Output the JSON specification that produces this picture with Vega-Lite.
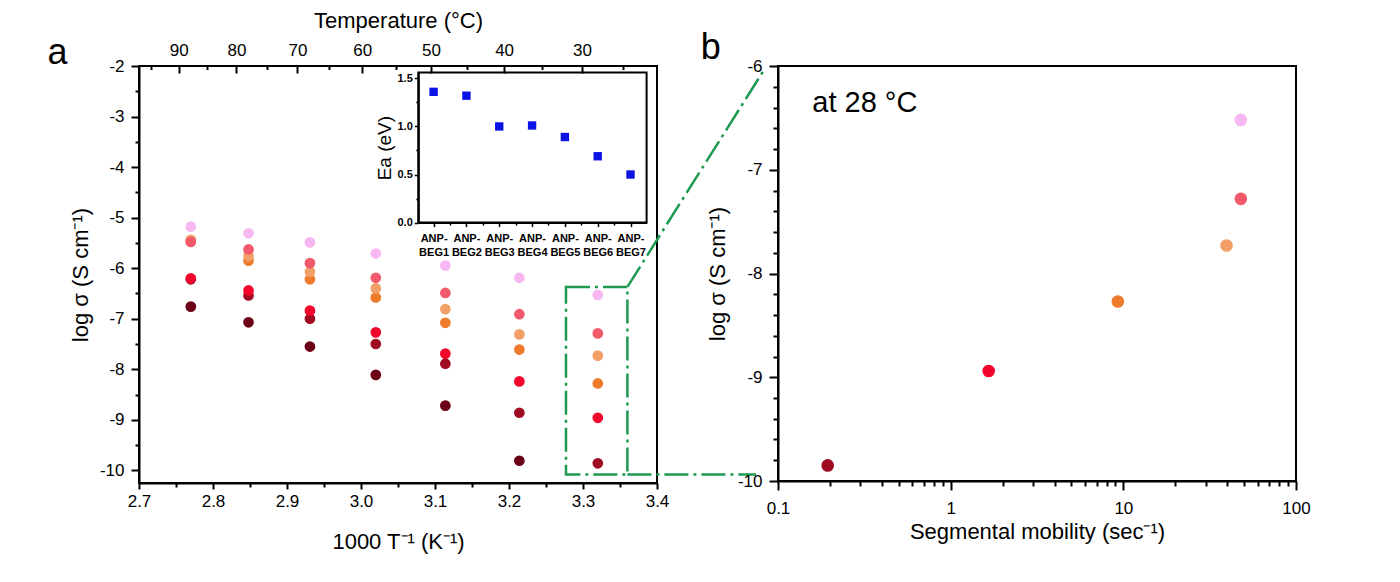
{
  "$schema": "https://vega.github.io/schema/vega-lite/v6.json",
  "background": "white",
  "padding": {"left": 46, "top": 8, "right": 5, "bottom": 5},
  "config": {
    "font": "Liberation Sans",
    "view": {"stroke": "black", "strokeWidth": 2},
    "axis": {
      "grid": false,
      "domainColor": "black",
      "domainWidth": 2,
      "tickColor": "black",
      "tickWidth": 2,
      "labelColor": "black",
      "titleColor": "black",
      "labelFont": "Liberation Sans",
      "titleFont": "Liberation Sans",
      "labelFontSize": 17,
      "titleFontSize": 22,
      "titleFontWeight": "normal",
      "labelFlush": false,
      "labelOverlap": false,
      "labelBound": false
    }
  },
  "datasets": {
    "cond": [
      {"sample": "ANP-BEG1", "invT": 2.770, "logs": -6.76},
      {"sample": "ANP-BEG1", "invT": 2.848, "logs": -7.07},
      {"sample": "ANP-BEG1", "invT": 2.931, "logs": -7.55},
      {"sample": "ANP-BEG1", "invT": 3.020, "logs": -8.11},
      {"sample": "ANP-BEG1", "invT": 3.114, "logs": -8.72},
      {"sample": "ANP-BEG1", "invT": 3.214, "logs": -9.81},
      {"sample": "ANP-BEG2", "invT": 2.770, "logs": -6.22},
      {"sample": "ANP-BEG2", "invT": 2.848, "logs": -6.54},
      {"sample": "ANP-BEG2", "invT": 2.931, "logs": -7.00},
      {"sample": "ANP-BEG2", "invT": 3.020, "logs": -7.50},
      {"sample": "ANP-BEG2", "invT": 3.114, "logs": -7.89},
      {"sample": "ANP-BEG2", "invT": 3.214, "logs": -8.86},
      {"sample": "ANP-BEG2", "invT": 3.320, "logs": -9.86},
      {"sample": "ANP-BEG3", "invT": 2.770, "logs": -6.20},
      {"sample": "ANP-BEG3", "invT": 2.848, "logs": -6.44},
      {"sample": "ANP-BEG3", "invT": 2.931, "logs": -6.84},
      {"sample": "ANP-BEG3", "invT": 3.020, "logs": -7.27},
      {"sample": "ANP-BEG3", "invT": 3.114, "logs": -7.69},
      {"sample": "ANP-BEG3", "invT": 3.214, "logs": -8.24},
      {"sample": "ANP-BEG3", "invT": 3.320, "logs": -8.96},
      {"sample": "ANP-BEG4", "invT": 2.770, "logs": -5.46},
      {"sample": "ANP-BEG4", "invT": 2.848, "logs": -5.85},
      {"sample": "ANP-BEG4", "invT": 2.931, "logs": -6.22},
      {"sample": "ANP-BEG4", "invT": 3.020, "logs": -6.58},
      {"sample": "ANP-BEG4", "invT": 3.114, "logs": -7.08},
      {"sample": "ANP-BEG4", "invT": 3.214, "logs": -7.61},
      {"sample": "ANP-BEG4", "invT": 3.320, "logs": -8.28},
      {"sample": "ANP-BEG5", "invT": 2.770, "logs": -5.44},
      {"sample": "ANP-BEG5", "invT": 2.848, "logs": -5.76},
      {"sample": "ANP-BEG5", "invT": 2.931, "logs": -6.07},
      {"sample": "ANP-BEG5", "invT": 3.020, "logs": -6.40},
      {"sample": "ANP-BEG5", "invT": 3.114, "logs": -6.81},
      {"sample": "ANP-BEG5", "invT": 3.214, "logs": -7.31},
      {"sample": "ANP-BEG5", "invT": 3.320, "logs": -7.73},
      {"sample": "ANP-BEG6", "invT": 2.770, "logs": -5.48},
      {"sample": "ANP-BEG6", "invT": 2.848, "logs": -5.63},
      {"sample": "ANP-BEG6", "invT": 2.931, "logs": -5.90},
      {"sample": "ANP-BEG6", "invT": 3.020, "logs": -6.19},
      {"sample": "ANP-BEG6", "invT": 3.114, "logs": -6.49},
      {"sample": "ANP-BEG6", "invT": 3.214, "logs": -6.91},
      {"sample": "ANP-BEG6", "invT": 3.320, "logs": -7.29},
      {"sample": "ANP-BEG7", "invT": 2.770, "logs": -5.18},
      {"sample": "ANP-BEG7", "invT": 2.848, "logs": -5.31},
      {"sample": "ANP-BEG7", "invT": 2.931, "logs": -5.49},
      {"sample": "ANP-BEG7", "invT": 3.020, "logs": -5.71},
      {"sample": "ANP-BEG7", "invT": 3.114, "logs": -5.95},
      {"sample": "ANP-BEG7", "invT": 3.214, "logs": -6.19},
      {"sample": "ANP-BEG7", "invT": 3.320, "logs": -6.53}
    ],
    "ea": [
      {"sample": "ANP-BEG1", "idx": 1, "ea": 1.36},
      {"sample": "ANP-BEG2", "idx": 2, "ea": 1.32},
      {"sample": "ANP-BEG3", "idx": 3, "ea": 1.00},
      {"sample": "ANP-BEG4", "idx": 4, "ea": 1.01},
      {"sample": "ANP-BEG5", "idx": 5, "ea": 0.89},
      {"sample": "ANP-BEG6", "idx": 6, "ea": 0.69},
      {"sample": "ANP-BEG7", "idx": 7, "ea": 0.50}
    ],
    "mob": [
      {"sample": "ANP-BEG2", "mobility": 0.194, "logs": -9.85},
      {"sample": "ANP-BEG3", "mobility": 1.66, "logs": -8.94},
      {"sample": "ANP-BEG4", "mobility": 9.29, "logs": -8.27},
      {"sample": "ANP-BEG5", "mobility": 39.6, "logs": -7.73},
      {"sample": "ANP-BEG6", "mobility": 47.9, "logs": -7.28},
      {"sample": "ANP-BEG7", "mobility": 47.9, "logs": -6.52}
    ],
    "box": [
      {"x1": 3.277, "x2": 3.36, "y1": -6.37, "y2": -10.08}
    ],
    "links": [
      {"x1": 3.36, "y1": -6.37, "x2": 3.546, "y2": -2.046},
      {"x1": 3.36, "y1": -10.08, "x2": 3.534, "y2": -10.08}
    ]
  },
  "hconcat": [
    {
      "width": 518,
      "height": 417,
      "layer": [
        {
          "layer": [
            {
              "data": {"name": "cond"},
              "mark": {"type": "circle", "size": 115, "opacity": 1},
              "encoding": {
                "x": {
                  "field": "invT", "type": "quantitative",
                  "scale": {"domain": [2.7, 3.4], "nice": false, "zero": false},
                  "axis": {
                    "orient": "bottom", "title": "1000 T⁻¹ (K⁻¹)",
                    "values": [2.7, 2.8, 2.9, 3.0, 3.1, 3.2, 3.3, 3.4],
                    "format": ".1f", "tickSize": 6, "labelPadding": 4, "titlePadding": 22
                  }
                },
                "y": {
                  "field": "logs", "type": "quantitative",
                  "scale": {"domain": [-10.25, -2], "nice": false, "zero": false},
                  "axis": {
                    "orient": "left", "title": "log σ (S cm⁻¹)",
                    "values": [-2, -3, -4, -5, -6, -7, -8, -9, -10],
                    "labelExpr": "'' + datum.value", "tickSize": 8, "labelPadding": 7, "titlePadding": 7
                  }
                },
                "color": {
                  "field": "sample", "type": "nominal", "legend": null,
                  "scale": {
                    "domain": ["ANP-BEG1", "ANP-BEG2", "ANP-BEG3", "ANP-BEG4", "ANP-BEG5", "ANP-BEG6", "ANP-BEG7"],
                    "range": ["#6b0016", "#9e0b22", "#f2062c", "#ee7b2c", "#f3a068", "#f25a6c", "#f7b8f2"]
                  }
                }
              }
            },
            {
              "data": {"name": "cond"},
              "mark": {"type": "circle", "opacity": 0},
              "encoding": {
                "x": {
                  "field": "invT", "type": "quantitative",
                  "scale": {"domain": [2.7, 3.4], "nice": false, "zero": false},
                  "axis": {
                    "orient": "bottom", "title": null, "labels": false, "domain": false,
                    "values": [2.75, 2.85, 2.95, 3.05, 3.15, 3.25, 3.35], "tickSize": 4
                  }
                },
                "y": {
                  "field": "logs", "type": "quantitative",
                  "scale": {"domain": [-10.25, -2], "nice": false, "zero": false},
                  "axis": {
                    "orient": "left", "title": null, "labels": false, "domain": false,
                    "values": [-2.5, -3.5, -4.5, -5.5, -6.5, -7.5, -8.5, -9.5], "tickSize": 4
                  }
                }
              }
            },
            {
              "data": {"name": "cond"},
              "mark": {"type": "circle", "opacity": 0},
              "encoding": {
                "x": {
                  "field": "invT", "type": "quantitative",
                  "scale": {"domain": [2.7, 3.4], "nice": false, "zero": false},
                  "axis": {
                    "orient": "top", "title": "Temperature (°C)", "domain": false,
                    "values": [2.75368, 2.83166, 2.91418, 3.00165, 3.09454, 3.19336, 3.2987],
                    "labelExpr": "format(1000 / datum.value - 273.15, '.0f')",
                    "tickSize": -7, "labelPadding": 14, "titlePadding": 9
                  }
                },
                "y": {
                  "field": "logs", "type": "quantitative",
                  "scale": {"domain": [-10.25, -2], "nice": false, "zero": false},
                  "axis": null
                }
              }
            },
            {
              "data": {"name": "cond"},
              "mark": {"type": "circle", "opacity": 0},
              "encoding": {
                "x": {
                  "field": "invT", "type": "quantitative",
                  "scale": {"domain": [2.7, 3.4], "nice": false, "zero": false},
                  "axis": {
                    "orient": "top", "title": null, "labels": false, "domain": false,
                    "values": [2.71635, 2.79212, 2.87233, 2.95726, 3.04739, 3.14317, 3.24517, 3.35402],
                    "tickSize": -3.5
                  }
                },
                "y": {
                  "field": "logs", "type": "quantitative",
                  "scale": {"domain": [-10.25, -2], "nice": false, "zero": false},
                  "axis": null
                }
              }
            },
            {
              "data": {"name": "box"},
              "mark": {"type": "rect", "fill": null, "stroke": "#1e9a50", "strokeWidth": 2.5, "strokeDash": [24, 5, 3, 5]},
              "encoding": {
                "x": {"field": "x1", "type": "quantitative", "scale": {"domain": [2.7, 3.4], "nice": false, "zero": false}, "axis": null},
                "x2": {"field": "x2"},
                "y": {"field": "y1", "type": "quantitative", "scale": {"domain": [-10.25, -2], "nice": false, "zero": false}, "axis": null},
                "y2": {"field": "y2"}
              }
            },
            {
              "data": {"name": "links"},
              "mark": {"type": "rule", "stroke": "#1e9a50", "strokeWidth": 2.5, "strokeDash": [24, 5, 3, 5]},
              "encoding": {
                "x": {"field": "x1", "type": "quantitative", "scale": {"domain": [2.7, 3.4], "nice": false, "zero": false}, "axis": null},
                "x2": {"field": "x2"},
                "y": {"field": "y1", "type": "quantitative", "scale": {"domain": [-10.25, -2], "nice": false, "zero": false}, "axis": null},
                "y2": {"field": "y2"}
              }
            },
            {
              "data": {"values": [{"label": "a"}]},
              "mark": {"type": "text", "fontSize": 36, "align": "center", "baseline": "middle", "font": "Liberation Sans"},
              "encoding": {
                "x": {"datum": 2.59, "type": "quantitative", "scale": {"domain": [2.7, 3.4], "nice": false, "zero": false}, "axis": null},
                "y": {"datum": -1.74, "type": "quantitative", "scale": {"domain": [-10.25, -2], "nice": false, "zero": false}, "axis": null},
                "text": {"field": "label"}
              }
            }
          ],
          "resolve": {"axis": {"x": "independent", "y": "independent"}}
        },
        {
          "layer": [
            {
              "data": {"name": "ea"},
              "mark": {"type": "square", "size": 70, "opacity": 1, "color": "#0a12e6"},
              "encoding": {
                "x": {
                  "field": "idx", "type": "quantitative",
                  "scale": {"domain": [0.534, 7.49], "range": [279.3, 507.6], "nice": false, "zero": false},
                  "axis": {
                    "orient": "bottom", "offset": -260.4, "title": null,
                    "values": [1, 2, 3, 4, 5, 6, 7], "tickSize": 4, "tickWidth": 1.5, "domainWidth": 2,
                    "labelExpr": "['ANP-', 'BEG' + datum.value]",
                    "labelFontSize": 11, "labelFontWeight": "bold", "labelPadding": 6, "labelLineHeight": 14,
                    "encode": {"labels": {"update": {"fill": {"signal": "['#6b0016', '#9e0b22', '#e8143a', '#ec7a2c', '#f3a068', '#ee5a6e', '#f4bcf0'][datum.value - 1]"}}}}
                  }
                },
                "y": {
                  "field": "ea", "type": "quantitative",
                  "scale": {"domain": [0, 1.56], "range": [156.6, 6.6], "nice": false, "zero": false},
                  "axis": {
                    "orient": "left", "offset": -279.3, "title": "Ea (eV)",
                    "values": [0, 0.5, 1, 1.5], "format": ".1f", "tickSize": 4, "tickWidth": 1.5,
                    "labelFontSize": 11, "labelFontWeight": "bold", "labelPadding": 2,
                    "titleFontSize": 19, "titlePadding": 3
                  }
                }
              }
            },
            {
              "data": {"name": "ea"},
              "mark": {"type": "square", "opacity": 0},
              "encoding": {
                "x": {
                  "field": "idx", "type": "quantitative",
                  "scale": {"domain": [0.534, 7.49], "range": [279.3, 507.6], "nice": false, "zero": false},
                  "axis": {
                    "orient": "bottom", "offset": -260.4, "title": null, "labels": false, "domain": false,
                    "values": [1.5, 2.5, 3.5, 4.5, 5.5, 6.5], "tickSize": 2.5, "tickWidth": 1.5
                  }
                },
                "y": {
                  "field": "ea", "type": "quantitative",
                  "scale": {"domain": [0, 1.56], "range": [156.6, 6.6], "nice": false, "zero": false},
                  "axis": {
                    "orient": "left", "offset": -279.3, "title": null, "labels": false, "domain": false,
                    "values": [0.25, 0.75, 1.25], "tickSize": 2.5, "tickWidth": 1.5
                  }
                }
              }
            },
            {
              "data": {"values": [{"frame": "inset"}]},
              "mark": {"type": "rect", "fill": null, "stroke": "black", "strokeWidth": 2},
              "encoding": {
                "x": {"datum": 0.534, "type": "quantitative", "scale": {"domain": [0.534, 7.49], "range": [279.3, 507.6], "nice": false, "zero": false}, "axis": null},
                "x2": {"datum": 7.49},
                "y": {"datum": 0, "type": "quantitative", "scale": {"domain": [0, 1.56], "range": [156.6, 6.6], "nice": false, "zero": false}, "axis": null},
                "y2": {"datum": 1.56}
              }
            }
          ],
          "resolve": {"axis": {"x": "independent", "y": "independent"}}
        }
      ],
      "resolve": {
        "scale": {"x": "independent", "y": "independent"},
        "axis": {"x": "independent", "y": "independent"}
      }
    },
    {
      "width": 518,
      "height": 415,
      "layer": [
        {
          "data": {"name": "mob"},
          "mark": {"type": "circle", "size": 160, "opacity": 1},
          "encoding": {
            "x": {
              "field": "mobility", "type": "quantitative",
              "scale": {"type": "log", "domain": [0.1, 100], "nice": false},
              "axis": {
                "orient": "bottom", "title": "Segmental mobility (sec⁻¹)",
                "values": [0.1, 1, 10, 100], "labelExpr": "'' + datum.value",
                "tickSize": 9, "labelPadding": 10, "titlePadding": 5
              }
            },
            "y": {
              "field": "logs", "type": "quantitative",
              "scale": {"domain": [-10, -6], "nice": false, "zero": false},
              "axis": {
                "orient": "left", "title": "log σ (S cm⁻¹)",
                "values": [-6, -7, -8, -9, -10], "labelExpr": "'' + datum.value",
                "tickSize": 9, "labelPadding": 7, "titlePadding": 8
              }
            },
            "color": {
              "field": "sample", "type": "nominal", "legend": null,
              "scale": {
                "domain": ["ANP-BEG1", "ANP-BEG2", "ANP-BEG3", "ANP-BEG4", "ANP-BEG5", "ANP-BEG6", "ANP-BEG7"],
                "range": ["#6b0016", "#9e0b22", "#f2062c", "#ee7b2c", "#f3a068", "#f25a6c", "#f7b8f2"]
              }
            }
          }
        },
        {
          "data": {"name": "mob"},
          "mark": {"type": "circle", "opacity": 0},
          "encoding": {
            "x": {
              "field": "mobility", "type": "quantitative",
              "scale": {"type": "log", "domain": [0.1, 100], "nice": false},
              "axis": {
                "orient": "bottom", "title": null, "labels": false, "domain": false,
                "values": [0.2, 0.3, 0.4, 0.5, 0.6, 0.7, 0.8, 0.9, 2, 3, 4, 5, 6, 7, 8, 9, 20, 30, 40, 50, 60, 70, 80, 90],
                "tickSize": 5
              }
            },
            "y": {
              "field": "logs", "type": "quantitative",
              "scale": {"domain": [-10, -6], "nice": false, "zero": false},
              "axis": {
                "orient": "left", "title": null, "labels": false, "domain": false,
                "values": [-6.2, -6.4, -6.6, -6.8, -7.2, -7.4, -7.6, -7.8, -8.2, -8.4, -8.6, -8.8, -9.2, -9.4, -9.6, -9.8],
                "tickSize": 5
              }
            }
          }
        },
        {
          "data": {"values": [{"label": "at 28 °C"}]},
          "mark": {"type": "text", "fontSize": 29, "align": "left", "baseline": "middle", "font": "Liberation Sans"},
          "encoding": {
            "x": {"datum": 0.158, "type": "quantitative", "scale": {"type": "log", "domain": [0.1, 100], "nice": false}, "axis": null},
            "y": {"datum": -6.36, "type": "quantitative", "scale": {"domain": [-10, -6], "nice": false, "zero": false}, "axis": null},
            "text": {"field": "label"}
          }
        },
        {
          "data": {"values": [{"label": "b"}]},
          "mark": {"type": "text", "fontSize": 36, "align": "center", "baseline": "middle", "font": "Liberation Sans"},
          "encoding": {
            "x": {"datum": 0.0408, "type": "quantitative", "scale": {"type": "log", "domain": [0.1, 100], "nice": false}, "axis": null},
            "y": {"datum": -5.83, "type": "quantitative", "scale": {"domain": [-10, -6], "nice": false, "zero": false}, "axis": null},
            "text": {"field": "label"}
          }
        }
      ],
      "resolve": {"axis": {"x": "independent", "y": "independent"}}
    }
  ],
  "spacing": 121,
  "bounds": "flush"
}
